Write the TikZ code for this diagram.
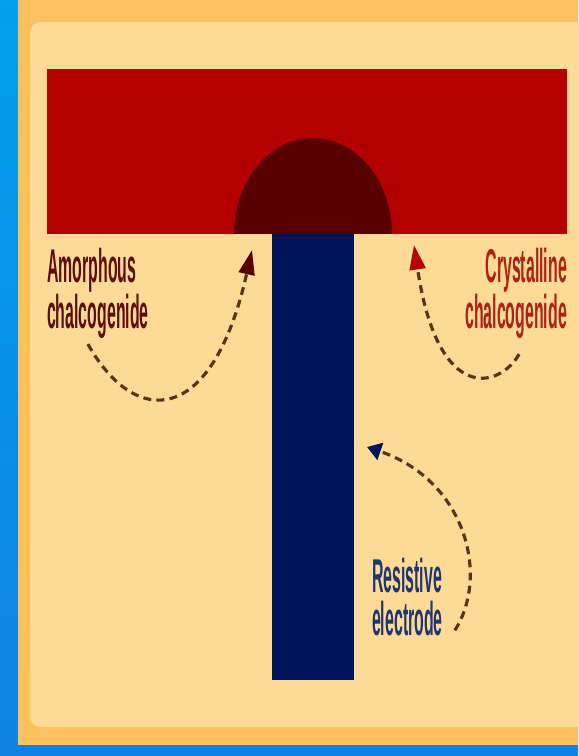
\documentclass[tikz,border=0pt]{standalone}
\usepackage{fontspec}
\setmainfont{Liberation Sans}
\usepackage{tikz}
\usetikzlibrary{arrows.meta,positioning,calc}
\usepackage{xcolor}
\definecolor{sidetop}{RGB}{0,160,236}
\definecolor{sidebot}{RGB}{16,130,226}
\definecolor{frame}{RGB}{252,192,92}
\definecolor{panel}{RGB}{253,219,150}
\definecolor{chalco}{RGB}{180,0,0}
\definecolor{amorph}{RGB}{88,0,0}
\definecolor{electrode}{RGB}{0,20,90}
\definecolor{amorphtext}{RGB}{92,14,10}
\definecolor{crystext}{RGB}{172,34,20}
\definecolor{elecText}{RGB}{32,54,112}
\definecolor{dashline}{RGB}{92,50,24}
\tikzset{
    partlabel/.style={font=\bfseries\fontsize{27}{24.5}\selectfont,xscale=0.335,inner sep=0pt},
    curved/.style={line width=1.8pt,dashline,dash pattern=on 4.5pt off 3pt},
}
\begin{document}
\begin{tikzpicture}[x=0.02cm,y=-0.02cm]
    \useasboundingbox (0,0) rectangle (578,756);
    % backdrop and panel
    \shade[top color=sidetop,bottom color=sidebot] (0,0) rectangle (578,756);
    \fill[frame] (18,0) rectangle (578,745);
    \fill[panel,rounded corners=6pt] (30,22) rectangle (590,727);
    % chalcogenide layer, switched dome, electrode
    \fill[chalco] (47,69) rectangle (567,234);
    \fill[amorph] (234,234) arc[start angle=180,end angle=0,x radius=79,y radius=-96] -- cycle;
    \fill[electrode] (272,234) rectangle (354,680);
    % labels
    \node[partlabel,amorphtext,align=left,anchor=north west] (amorphlabel) at (47,248) {Amorphous\\chalcogenide};
    \node[partlabel,crystext,align=right,anchor=north east] (cryslabel) at (567,248) {Crystalline\\chalcogenide};
    \node[partlabel,elecText,align=left,anchor=north west] (eleclabel) at (372,558) {Resistive\\electrode};
    % arrow ends
    \coordinate (amorphtip) at (252,250);
    \coordinate (crystip) at (414,245);
    \coordinate (electip) at (367,447);
    \draw[curved,-{Triangle[length=14pt,width=9pt,color=amorph]}] (amorphlabel.south) ++(-10,5) .. controls (135,428) and (212,428) .. (amorphtip);
    \draw[curved,-{Triangle[length=14pt,width=9pt,color=chalco]}] (cryslabel.south) ++(3,15) .. controls (500,388) and (438,406) .. (crystip);
    \draw[curved,-{Triangle[length=8pt,width=10pt,color=electrode]}] (eleclabel.east) ++(12,33) .. controls (490,575) and (465,480) .. (electip);
\end{tikzpicture}
\end{document}
